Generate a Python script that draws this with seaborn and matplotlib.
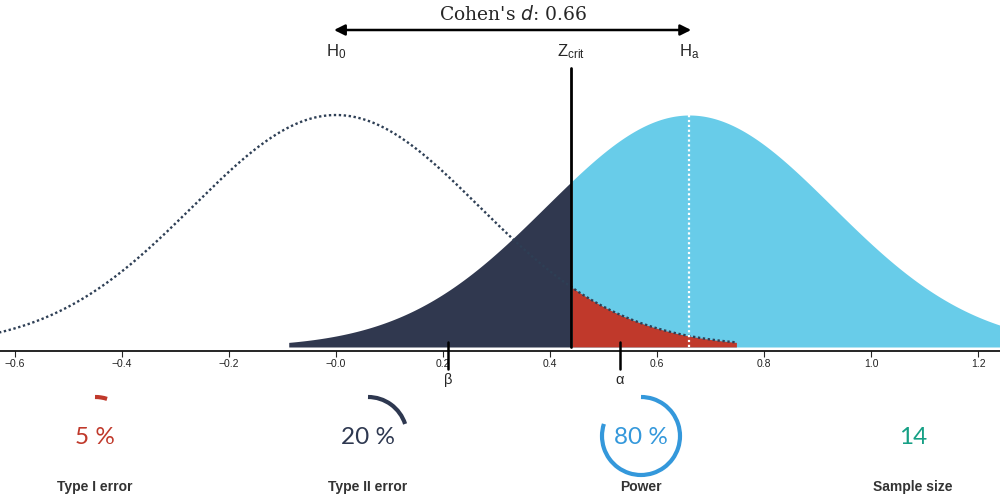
"""
Statistical power visual: H0 vs Ha sampling distributions with error rates
"""

import numpy as np
import pandas as pd
import matplotlib
matplotlib.use('Agg')
import matplotlib.pyplot as plt
from matplotlib.patches import Arc
import seaborn as sns

# values
cohens_d = 0.66
sample_size = 14
z_alpha = 1.645          # one-sided, alpha = 0.05
tail_sd = 2.8            # curves are drawn out to about this many SDs

tick_values = [-0.6, -0.4, -0.2, 0.0, 0.2, 0.4, 0.6, 0.8, 1.0, 1.2]
tick_labels = ["\u22120.6", "\u22120.4", "\u22120.2", "\u22120.0",
               "0.2", "0.4", "0.6", "0.8", "1.0", "1.2"]

beta_mark = 0.21
alpha_mark = 0.53

stat_names = ["Type I error", "Type II error", "Power", "Sample size"]
stat_fracs = [0.05, 0.20, 0.80, None]
stat_texts = ["5 %", "20 %", "80 %", "14"]
stat_colors = ["#C0392B", "#2E3850", "#3498DB", "#16A085"]

c_blue = "#68CCE9"
c_navy = "#30384F"
c_red = "#C0392B"
c_dot = "#2E3F55"


def npdf(x, mu, sd):
    return np.exp(-0.5 * ((x - mu) / sd) ** 2) / (sd * np.sqrt(2 * np.pi))


se = 1 / np.sqrt(sample_size)
z_crit = z_alpha * se
peak = npdf(0, 0, se)

sns.set_style("white")
plt.rcParams['font.family'] = ['Liberation Sans', 'DejaVu Sans']

fig = plt.figure(figsize=(10, 5), dpi=100)

# ---- main density panel ----
px_per_unit = 232 / peak
ax = fig.add_axes([0, 149 / 500, 1, 351 / 500])
ax.set_xlim(-0.628, 1.241)
ax.set_ylim(-4 / px_per_unit, 347 / px_per_unit)

x0 = np.linspace(-1.0, tail_sd * se, 600)
h0 = pd.DataFrame({"x": x0, "y": npdf(x0, 0, se)})
xa = np.linspace(cohens_d - tail_sd * se, 1.5, 600)
ha = pd.DataFrame({"x": xa, "y": npdf(xa, cohens_d, se)})

right = ha[ha.x >= z_crit]
left = ha[ha.x <= z_crit]
ax.fill_between(right.x, 0, right.y, color=c_blue, lw=0)
ax.fill_between(left.x, 0, left.y, color=c_navy, lw=0)
ax.plot([z_crit, z_crit], [0, npdf(z_crit, cohens_d, se)], color=c_blue, lw=0.8)
red = h0[h0.x >= z_crit]
ax.fill_between(red.x, 0, red.y, color=c_red, lw=0)

sns.lineplot(data=h0, x="x", y="y", ax=ax, color=c_dot, lw=1.7,
             linestyle=(0, (1, 1.1)))

# white dotted line at Ha mean
ax.plot([cohens_d, cohens_d], [0, peak], color="white", lw=1.6,
        linestyle=(0, (1, 1.2)))

# critical value line
ax.plot([z_crit, z_crit], [0, 0 + 279 / px_per_unit], color="black", lw=2,
        clip_on=False)

# beta / alpha markers
for xm, lab in [(beta_mark, "\u03b2"), (alpha_mark, "\u03b1")]:
    ax.plot([xm, xm], [5 / px_per_unit, -22 / px_per_unit], color="black",
            lw=1.8, clip_on=False)
    ax.text(xm, -33 / px_per_unit, lab, ha="center", va="center",
            fontsize=10.5, clip_on=False)

ax.set_xticks(tick_values)
ax.set_xticklabels(tick_labels, fontsize=7.5, color="#222222")
ax.set_yticks([])
ax.set_xlabel("")
ax.set_ylabel("")
for s in ["top", "left", "right"]:
    ax.spines[s].set_visible(False)
ax.spines["bottom"].set_color("black")
ax.spines["bottom"].set_linewidth(1.2)
ax.tick_params(axis="x", direction="out", length=4, width=0.8, pad=2,
               bottom=True)

# ---- overlay in pixel coordinates ----
ov = fig.add_axes([0, 0, 1, 1])
ov.set_xlim(0, 1000)
ov.set_ylim(500, 0)
ov.axis("off")

def px_x(v):
    return (v + 0.628) / (1.241 + 0.628) * 1000

ov.annotate("", xy=(px_x(0) - 2, 30), xytext=(px_x(cohens_d) + 2, 30),
            arrowprops=dict(arrowstyle="<|-|>", color="black", lw=1.8,
                            mutation_scale=16, shrinkA=0, shrinkB=0))
ov.text(px_x(cohens_d / 2), 14, "Cohen's $d$: %.2f" % cohens_d,
        ha="center", va="center", fontsize=13.5, family="DejaVu Serif")
ov.text(px_x(0), 52, r"$\mathregular{H_0}$", ha="center", va="center",
        fontsize=12)
ov.text(px_x(cohens_d), 52, r"$\mathregular{H_a}$", ha="center",
        va="center", fontsize=12)
ov.text(px_x(z_crit), 52, r"$\mathregular{Z_{crit}}$", ha="center",
        va="center", fontsize=12)

centers = [95, 368, 641, 913]
for cx, name, frac, txt, col in zip(centers, stat_names, stat_fracs,
                                     stat_texts, stat_colors):
    if frac is not None:
        # y axis is inverted, so angles run clockwise from 12 o'clock
        ov.add_patch(Arc((cx, 436), 78, 78, theta1=-90, theta2=-90 + 360 * frac,
                         color=col, lw=3, capstyle="butt"))
    ov.text(cx, 437, txt, ha="center", va="center", fontsize=17.5, color=col,
            family=["Lato", "DejaVu Sans"])
    ov.text(cx, 487, name, ha="center", va="center", fontsize=10,
            fontweight="bold", color="#333333")

fig.savefig("out.png", dpi=100)
